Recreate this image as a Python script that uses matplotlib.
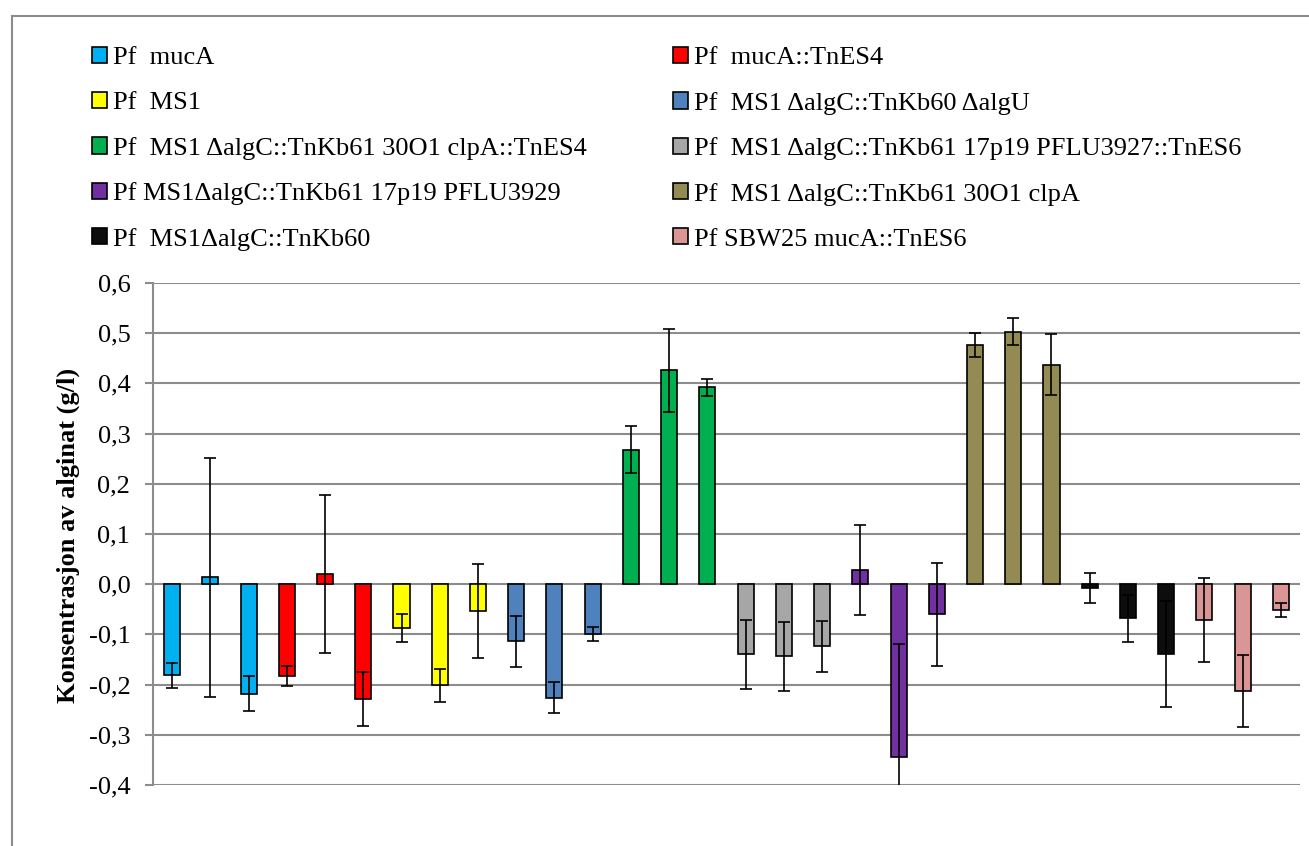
import matplotlib.pyplot as plt
from matplotlib.patches import Rectangle
import numpy as np

plt.rcParams['font.family'] = ['Liberation Serif', 'DejaVu Serif']

# stammer (3 paralleller hver)
labels = ['Pf  mucA', 'Pf  mucA::TnES4', 'Pf  MS1', 'Pf  MS1 ΔalgC::TnKb60 ΔalgU',
          'Pf  MS1 ΔalgC::TnKb61 30O1 clpA::TnES4', 'Pf  MS1 ΔalgC::TnKb61 17p19 PFLU3927::TnES6',
          'Pf MS1ΔalgC::TnKb61 17p19 PFLU3929', 'Pf  MS1 ΔalgC::TnKb61 30O1 clpA',
          'Pf  MS1ΔalgC::TnKb60', 'Pf SBW25 mucA::TnES6']
colors = ['#00B0F0', '#FF0000', '#FFFF00', '#4F81BD', '#00B050',
          '#A6A6A6', '#7030A0', '#948A54', '#0D0D0D', '#D99694']

mucA = [-0.181, 0.014, -0.218]
mucA_tn = [-0.183, 0.020, -0.228]
ms1 = [-0.088, -0.201, -0.054]
ms1_algU = [-0.114, -0.226, -0.100]
clpA_tn = [0.268, 0.426, 0.392]
pflu3927 = [-0.140, -0.144, -0.124]
pflu3929 = [0.028, -0.345, -0.060]
clpA = [0.477, 0.503, 0.437]
ms1_kb60 = [-0.008, -0.068, -0.139]
sbw25 = [-0.071, -0.213, -0.052]

err_mucA = [0.025, 0.238, 0.035]
err_mucA_tn = [0.020, 0.157, 0.054]
err_ms1 = [0.028, 0.033, 0.094]
err_ms1_algU = [0.050, 0.031, 0.014]
err_clpA_tn = [0.047, 0.082, 0.017]
err_pflu3927 = [0.068, 0.068, 0.050]
err_pflu3929 = [0.089, 0.225, 0.102]
err_clpA = [0.024, 0.027, 0.061]
err_ms1_kb60 = [0.030, 0.047, 0.105]
err_sbw25 = [0.084, 0.072, 0.014]

values = [mucA, mucA_tn, ms1, ms1_algU, clpA_tn, pflu3927, pflu3929, clpA, ms1_kb60, sbw25]
errors = [err_mucA, err_mucA_tn, err_ms1, err_ms1_algU, err_clpA_tn, err_pflu3927,
          err_pflu3929, err_clpA, err_ms1_kb60, err_sbw25]

fig = plt.figure(figsize=(13.09, 8.46), dpi=100)
ax = fig.add_axes([153 / 1309, 1 - 785 / 846, 1147 / 1309, 502 / 846])

grid_col = '#8C8C8C'
fs = 19
handles = []
for g in range(len(values)):
    x = np.arange(3) + 3 * g
    h = ax.bar(x, values[g], width=0.42, color=colors[g], edgecolor='black',
               linewidth=1.2, zorder=3, label=labels[g])
    ax.errorbar(x, values[g], yerr=errors[g], fmt='none', ecolor='black',
                elinewidth=1.2, capsize=4.5, capthick=1.2, zorder=4)
    handles.append(h)

ticks = np.round(np.arange(-0.4, 0.61, 0.1), 1)
ax.set_xlim(-0.5, 29.5)
ax.set_ylim(-0.4, 0.6)
ax.set_yticks(ticks)
ax.set_yticklabels([f'{abs(v):.1f}'.replace('.', ',') if v == 0 else f'{v:.1f}'.replace('.', ',')
                    for v in ticks])
ax.set_xticks([])
ax.yaxis.grid(True, color=grid_col, linewidth=1.5, zorder=0)
ax.set_axisbelow(True)
for s in ['top', 'right', 'bottom']:
    ax.spines[s].set_visible(False)
ax.spines['left'].set_color(grid_col)
ax.spines['left'].set_linewidth(1.5)
ax.tick_params(axis='y', direction='out', length=5.8, width=1.5, color=grid_col,
               pad=10.5, labelsize=fs)

ax.set_ylabel('Konsentrasjon av alginat (g/l)', fontsize=fs, fontweight='bold')
ax.yaxis.set_label_coords(-0.064, 0.498)

# tegnforklaring i to kolonner
leg_kw = dict(loc='upper left', frameon=False, fontsize=fs, borderpad=0, borderaxespad=0,
              handlelength=0.57, handleheight=0.57, handletextpad=0.22, labelspacing=0.85)
fig.legend(handles[0::2], labels[0::2], bbox_to_anchor=(92 / 1309, 1 - 47 / 846), **leg_kw)
fig.legend(handles[1::2], labels[1::2], bbox_to_anchor=(673 / 1309, 1 - 47 / 846), **leg_kw)

# ramme rundt diagrammet
fig.patches.append(Rectangle((12 / 1309, -0.2), 1.2, 1.2 - 16 / 846, transform=fig.transFigure,
                             fill=False, edgecolor='#8C8C8C', linewidth=1.5))

fig.savefig('out.png', dpi=100)
